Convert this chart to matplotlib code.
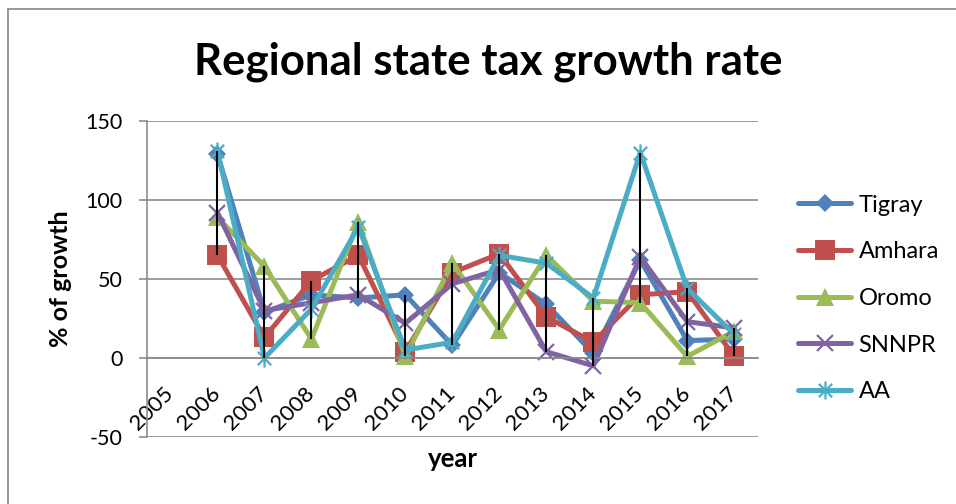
import numpy as np
import matplotlib.pyplot as plt
from matplotlib.path import Path
from matplotlib.lines import Line2D

plt.rcParams['font.family'] = ['Lato', 'DejaVu Sans']
plt.rcParams['axes.unicode_minus'] = False

# ---------------- Data ---------------- #
years = ['2005', '2006', '2007', '2008', '2009', '2010', '2011',
         '2012', '2013', '2014', '2015', '2016', '2017']

nan = np.nan
tigray = [nan, 129, 29, 40, 38, 40, 8, 54, 34, 3, 62, 11, 12]
amhara = [nan, 65, 13, 49, 65, 4, 54, 66, 26, 10, 40, 42, 1]
oromo = [nan, 89, 58, 12, 86, 1, 60, 18, 65, 36, 35, 1, 17]
snnpr = [nan, 92, 30, 35, 40, 22, 47, 56, 4, -5, 64, 23, 19]
aa = [nan, 131, 0, 31, 83, 5, 10, 65, 60, 38, 130, 44, 15]

names = ['Tigray', 'Amhara', 'Oromo', 'SNNPR', 'AA']

# ---------------- Style ---------------- #
# Excel-like star marker: an X with a vertical bar through it
star = Path([(-1, -1), (1, 1), (-1, 1), (1, -1), (0, -1.35), (0, 1.35)],
            [Path.MOVETO, Path.LINETO] * 3)

styles = [
    ('#4F81BD', 'D', 9.5, 0),
    ('#C0504D', 's', 14, 0),
    ('#9BBB59', '^', 13.5, 0),
    ('#8064A2', 'x', 12, 1.6),
    ('#4BACC6', star, 13, 1.6),
]
grid_col = '#8c8c8c'

# ---------------- Figure ---------------- #
fig = plt.figure(figsize=(9.56, 5.04), dpi=100)
ax = fig.add_axes([0.1538, 0.133, 0.6388, 0.6268])

x = np.arange(len(years))
data = np.array([tigray, amhara, oromo, snnpr, aa], dtype=float)

for name, vals, (col, mk, ms, mew) in zip(names, data, styles):
    ax.plot(x, vals, color=col, lw=3.6, marker=mk, ms=ms, mew=mew,
            mec=col, mfc=col, label=name,
            solid_joinstyle='round', solid_capstyle='round')

# high-low lines across the series
valid = ~np.all(np.isnan(data), axis=0)
hi = np.nanmax(data[:, valid], axis=0)
lo = np.nanmin(data[:, valid], axis=0)
ax.vlines(x[valid], lo, hi, color='black', lw=1.5, zorder=5)

ax.set_xlim(-0.5, len(years) - 0.5)
ax.set_ylim(-50, 150)
ax.set_yticks([-50, 0, 50, 100, 150])
ax.yaxis.grid(True, color=grid_col, lw=1.2)
ax.set_axisbelow(True)

for side in ['top', 'right']:
    ax.spines[side].set_visible(False)
ax.spines['bottom'].set_position(('data', 0))
ax.spines['bottom'].set_color(grid_col)
ax.spines['bottom'].set_linewidth(1.2)
ax.spines['left'].set_color(grid_col)
ax.spines['left'].set_linewidth(1.2)

ax.set_xticks(x, years, rotation=45, ha='right', va='center',
              rotation_mode='anchor')
ax.tick_params(axis='x', length=0, pad=23, labelsize=16)
ax.tick_params(axis='y', length=6, width=1.2, color=grid_col, pad=11.5,
               labelsize=15.5)

# ---------------- Text ---------------- #
fig.text(0.511, 0.877, 'Regional state tax growth rate', ha='center',
         va='center', fontsize=31.5, fontweight='bold')
fig.text(60 / 956, 1 - 279 / 504, '% of growth', rotation=90, ha='center',
         va='center', fontsize=18, fontweight='bold')
fig.text(453 / 956, 1 - 459 / 504, 'year', ha='center', va='center',
         fontsize=18.5, fontweight='bold')

ax.legend(loc='upper left', bbox_to_anchor=(0.835, 0.614),
          bbox_transform=fig.transFigure, frameon=False, fontsize=17,
          handlelength=2.25, handletextpad=0.3, labelspacing=1.09,
          borderpad=0, borderaxespad=0)

# chart border (cut off at right and bottom like the reference)
fig.add_artist(Line2D([8 / 956, 8 / 956], [0, 1 - 9 / 504],
                      transform=fig.transFigure, color='#888888', lw=1.2))
fig.add_artist(Line2D([8 / 956, 1], [1 - 9 / 504, 1 - 9 / 504],
                      transform=fig.transFigure, color='#888888', lw=1.2))

fig.savefig('out.png', dpi=100)
